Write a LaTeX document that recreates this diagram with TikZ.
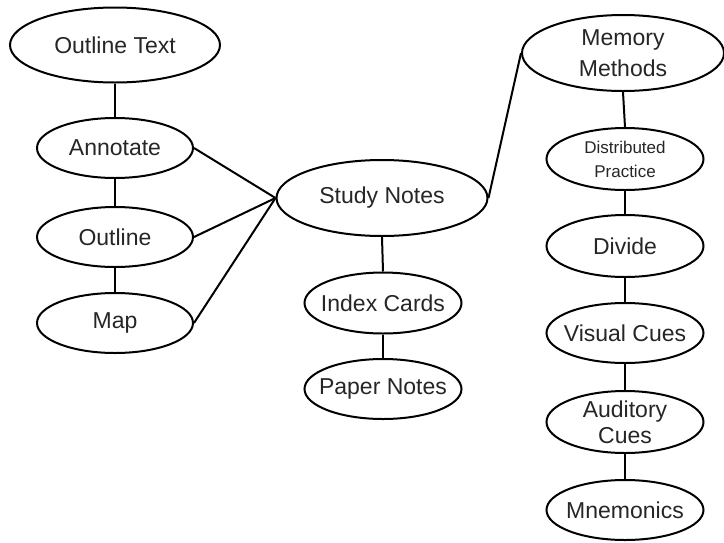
\documentclass[tikz,border=0pt]{standalone}
\usepackage{fontspec}
\setmainfont{Liberation Sans}
\usetikzlibrary{shapes.geometric}
\newcommand\zw[1]{\makebox[0pt]{#1}}
\tikzset{
  bub/.style={ellipse, draw=black, line width=2pt, fill=white, inner sep=0pt,
    text=black!85, font=\fontsize{23}{31}\selectfont, align=center},
  small/.style={font=\fontsize{17}{24}\selectfont},
  link/.style={line width=2pt, draw=black}
}
\begin{document}
\begin{tikzpicture}[x=1pt,y=-1pt]
\useasboundingbox (0,0) rectangle (724,542);
\node[bub, minimum width=210pt, minimum height=75pt] (ot) at (115,45) {\zw{Outline Text}};
\node[bub, minimum width=156pt, minimum height=60pt] (ann) at (115,148) {\zw{Annotate}};
\node[bub, minimum width=156pt, minimum height=60pt] (outl) at (115,237) {\zw{Outline}};
\node[bub, minimum width=156pt, minimum height=60pt] (map) at (115,323) {\zw{Map}};
\node[bub, minimum width=211pt, minimum height=76pt] (sn) at (382,198) {\zw{Study Notes}};
\node[bub, minimum width=157pt, minimum height=61pt] (ic) at (383,303) {\zw{Index Cards}};
\node[bub, minimum width=157pt, minimum height=60pt] (pn) at (383,389) {\zw{Paper Notes}};
\node[bub, inner ysep=-5pt, minimum width=202pt, minimum height=76pt] (mm) at (623,53) {\zw{Memory}\\\zw{Methods}};
\node[bub, small, inner ysep=-3pt, minimum width=157pt, minimum height=62pt] (dp) at (625,159) {\zw{Distributed}\\\zw{Practice}};
\node[bub, minimum width=157pt, minimum height=62pt] (div) at (625,246) {\zw{Divide}};
\node[bub, minimum width=157pt, minimum height=60pt] (vc) at (625,333) {\zw{Visual Cues}};
\node[bub, inner ysep=-7pt, minimum width=157pt, minimum height=62pt, font=\fontsize{23}{26}\selectfont] (ac) at (625,422) {\zw{Auditory}\\\zw{Cues}};
\node[bub, minimum width=157pt, minimum height=60pt] (mn) at (625,510) {\zw{Mnemonics}};
\draw[link] (ot.south) -- (ann.north);
\draw[link] (ann.south) -- (outl.north);
\draw[link] (outl.south) -- (map.north);
\draw[link] (ann.east) -- (sn.west);
\draw[link] (outl.east) -- (sn.west);
\draw[link] (map.east) -- (sn.west);
\draw[link] (sn.east) -- (mm.west);
\draw[link] (sn.south) -- (ic.north);
\draw[link] (ic.south) -- (pn.north);
\draw[link] (mm.south) -- (dp.north);
\draw[link] (dp.south) -- (div.north);
\draw[link] (div.south) -- (vc.north);
\draw[link] (vc.south) -- (ac.north);
\draw[link] (ac.south) -- (mn.north);
\end{tikzpicture}
\end{document}
